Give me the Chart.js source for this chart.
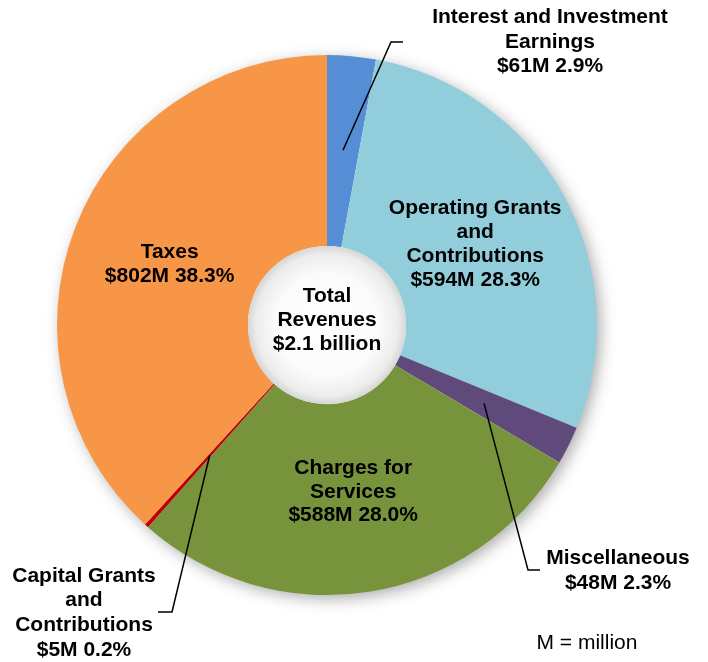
<!DOCTYPE html>
<html>
<head>
<meta charset="utf-8">
<script src="https://cdn.jsdelivr.net/npm/chart.js@4/dist/chart.umd.min.js"></script>
<style>
html,body{margin:0;padding:0;background:#fff;}
#wrap{width:708px;height:662px;position:relative;}
</style>
</head>
<body>
<div id="wrap"><canvas id="c" width="708" height="662"></canvas></div>
<script>
const categories = ["Interest and Investment Earnings","Operating Grants and Contributions","Miscellaneous","Charges for Services","Capital Grants and Contributions","Taxes"];
const valuesM = [61, 594, 48, 588, 5, 802];
const percents = ["2.9%","28.3%","2.3%","28.0%","0.2%","38.3%"];
const labelLines = [
  ["Interest and Investment","Earnings"],
  ["Operating Grants","and","Contributions"],
  ["Miscellaneous"],
  ["Charges for","Services"],
  ["Capital Grants","and","Contributions"],
  ["Taxes"]
];
const colors = ["#558ED5","#92CDDC","#604A7B","#77933C","#C00000","#F79646"];
const centerLines = ["Total","Revenues","$2.1 billion"];
const noteText = "M = million";

const FONT_B = "bold 21px 'Liberation Sans', Arial, sans-serif";
const FONT_R = "21px 'Liberation Sans', Arial, sans-serif";

function linesFor(i){ return labelLines[i].concat(["$"+valuesM[i]+"M "+percents[i]]); }

function drawLines(ctx, lines, cx, cy, lh){
  const n = lines.length;
  for(let k=0;k<n;k++){
    ctx.fillText(lines[k], cx, cy + (k-(n-1)/2)*lh);
  }
}

const decor = {
  id:'decor',
  beforeDatasetsDraw(chart){
    const a = chart.getDatasetMeta(0).data[0];
    const ctx = chart.ctx;
    ctx.save();
    ctx.shadowColor='rgba(0,0,0,0.35)';
    ctx.shadowBlur=16;
    ctx.shadowOffsetX=4;
    ctx.shadowOffsetY=4;
    ctx.fillStyle='#ffffff';
    ctx.beginPath();
    ctx.arc(a.x,a.y,a.outerRadius-1,0,Math.PI*2);
    ctx.fill();
    ctx.restore();
  },
  afterDatasetsDraw(chart){
    const meta = chart.getDatasetMeta(0);
    const a = meta.data[0];
    const ctx = chart.ctx;
    const cx=a.x, cy=a.y, R=a.outerRadius, r=a.innerRadius;
    ctx.save();
    const g = ctx.createRadialGradient(cx,cy,0,cx,cy,r);
    g.addColorStop(0,'#ffffff');
    g.addColorStop(0.65,'#fbfbfb');
    g.addColorStop(0.9,'#ececec');
    g.addColorStop(1,'#d6d6d6');
    ctx.fillStyle=g;
    ctx.beginPath();
    ctx.arc(cx,cy,r,0,Math.PI*2);
    ctx.fill();
    ctx.restore();

    ctx.save();
    ctx.fillStyle='#000';
    ctx.textAlign='center';
    ctx.textBaseline='middle';
    ctx.font=FONT_B;
    drawLines(ctx, centerLines, cx, cy-5, 24);

    const inside = [1,3,5];
    inside.forEach(i=>{
      const el = meta.data[i];
      const mid=(el.startAngle+el.endAngle)/2;
      const rr = R*0.625;
      drawLines(ctx, linesFor(i), cx+Math.cos(mid)*rr, cy+Math.sin(mid)*rr, 23.8);
    });

    const outside = [
      {i:0, tx:550, ty:42, elbow:[391,42], end:[403,42]},
      {i:2, tx:618, ty:571, elbow:[528,570], end:[540,570]},
      {i:4, tx:84, ty:613, elbow:[172,612], end:[158,612]}
    ];
    ctx.strokeStyle='#000';
    ctx.lineWidth=1.5;
    outside.forEach(o=>{
      const el = meta.data[o.i];
      const mid=(el.startAngle+el.endAngle)/2;
      const rr = R*0.65;
      const sx=cx+Math.cos(mid)*rr, sy=cy+Math.sin(mid)*rr;
      ctx.beginPath();
      ctx.moveTo(sx,sy);
      ctx.lineTo(o.elbow[0],o.elbow[1]);
      ctx.lineTo(o.end[0],o.end[1]);
      ctx.stroke();
      drawLines(ctx, linesFor(o.i), o.tx, o.ty, 24.7);
    });

    ctx.font=FONT_R;
    ctx.fillText(noteText, 587, 643);
    ctx.restore();
  }
};

new Chart(document.getElementById('c'), {
  type:'doughnut',
  data:{
    labels:categories,
    datasets:[{
      data:valuesM,
      backgroundColor:colors,
      borderWidth:0,
      hoverOffset:0
    }]
  },
  options:{
    responsive:false,
    animation:false,
    cutout:'29.3%',
    layout:{padding:{left:57,right:111,top:55,bottom:67}},
    plugins:{legend:{display:false},tooltip:{enabled:false}},
    events:[]
  },
  plugins:[decor]
});
</script>
</body>
</html>
